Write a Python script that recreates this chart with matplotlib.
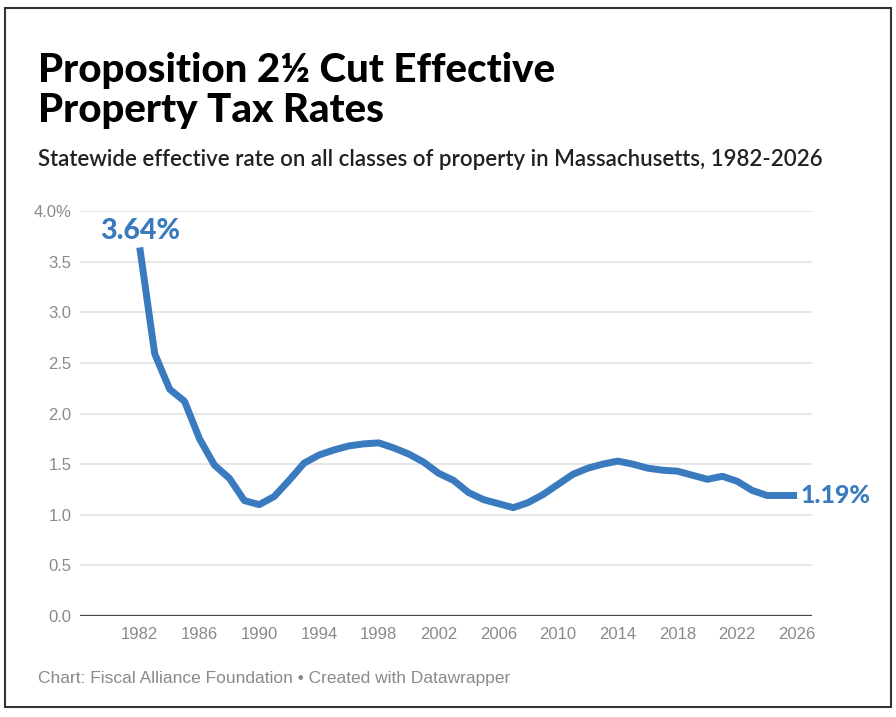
import matplotlib
matplotlib.use("Agg")
import matplotlib.pyplot as plt
from matplotlib.patches import Rectangle

years = list(range(1982, 2027))
rates = [3.64, 2.59, 2.24, 2.12, 1.75, 1.49, 1.36, 1.14, 1.10, 1.18,
         1.34, 1.51, 1.59, 1.64, 1.68, 1.70, 1.71, 1.66, 1.60, 1.52,
         1.41, 1.34, 1.22, 1.15, 1.11, 1.07, 1.12, 1.20, 1.30, 1.40,
         1.46, 1.50, 1.53, 1.50, 1.46, 1.44, 1.43, 1.39, 1.35, 1.38,
         1.33, 1.24, 1.19, 1.19, 1.19]
xticks = list(range(1982, 2027, 4))
yticks = [0, 0.5, 1.0, 1.5, 2.0, 2.5, 3.0, 3.5, 4.0]
ytick_labels = ["0.0", "0.5", "1.0", "1.5", "2.0", "2.5", "3.0", "3.5", "4.0%"]

BLUE = "#3a7bbf"
GRAY = "#8a8a8a"

fig = plt.figure(figsize=(8.96, 7.17), dpi=100)
fig.patch.set_facecolor("white")

# outer frame
fig.add_artist(Rectangle((5 / 896, 1 - 707 / 717), 886 / 896, 699 / 717,
                         transform=fig.transFigure, fill=False,
                         edgecolor="#333333", linewidth=1.5))

ax = fig.add_axes([80 / 896, 1 - 616 / 717, 732 / 896, 405 / 717])
ax.plot(years, rates, color=BLUE, linewidth=5.0, solid_capstyle="butt",
        solid_joinstyle="round", clip_on=False, zorder=3)

ax.set_xlim(1978, 2027)
ax.set_ylim(0, 4)
ax.set_xticks(xticks)
ax.set_xticklabels([str(y) for y in xticks])
ax.set_yticks(yticks)
ax.set_yticklabels(ytick_labels)
ax.tick_params(axis="both", length=0, colors=GRAY, labelsize=12)
ax.tick_params(axis="y", pad=6)
ax.tick_params(axis="x", pad=8)
for lab in ax.get_xticklabels() + ax.get_yticklabels():
    lab.set_fontfamily("Liberation Sans")

ax.grid(axis="y", color="#e3e3e3", linewidth=1.2)
ax.set_axisbelow(True)
for s in ax.spines.values():
    s.set_visible(False)
ax.axhline(0, color="#444444", linewidth=1.6, zorder=2)

# value labels
ax.text(years[0], rates[0] + 0.03, "3.64%", color=BLUE, fontsize=20.5,
        fontweight="black", fontfamily="Lato", ha="center", va="bottom")
ax.text(years[-1] + 0.2, rates[-1], "1.19%", color=BLUE, fontsize=18,
        fontweight="black", fontfamily="Lato", ha="left", va="center",
        clip_on=False)

# titles
fig.text(38 / 896, 1 - 52 / 717, "Proposition 2½ Cut Effective\nProperty Tax Rates",
         fontsize=29, fontweight="black", fontfamily="Lato", color="black",
         ha="left", va="top", linespacing=1.1)
fig.text(38 / 896, 1 - 160 / 717,
         "Statewide effective rate on all classes of property in Massachusetts, 1982-2026",
         fontsize=16, fontweight="semibold", fontfamily="Lato", color="#222222",
         ha="left", va="center")
fig.text(38 / 896, 1 - 679 / 717,
         "Chart: Fiscal Alliance Foundation \u2022 Created with Datawrapper",
         fontsize=12.5, fontfamily="Liberation Sans", color=GRAY,
         ha="left", va="center")

fig.savefig("out.png", dpi=100)
